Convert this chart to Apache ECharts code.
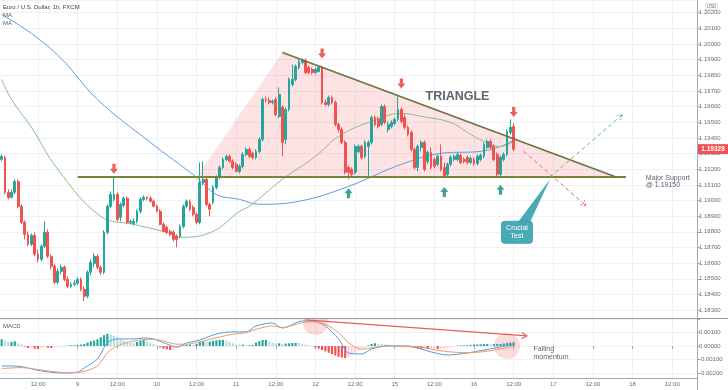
<!DOCTYPE html>
<html><head><meta charset="utf-8">
<script src="https://cdn.jsdelivr.net/npm/echarts@6/dist/echarts.min.js"></script>
<style>html,body{margin:0;padding:0;background:#fff}#c{width:728px;height:390px}</style>
</head><body><div id="c"></div>
<script>
// ---------- time axis (hourly bars, FX weekend gap) ----------
const sessions = [[8,1,23],[9,0,23],[10,0,23],[11,0,23],[12,0,21],[14,22,23],[15,0,23],[16,0,23],[17,0,23],[18,0,19]];
const categories = [];
sessions.forEach(([d,h0,h1]) => { for (let h=h0; h<=h1; h++) categories.push(d + ' ' + String(h).padStart(2,'0') + ':00'); });

// ---------- candles: [open, close, low, high] ----------
const candles = [
[1.19262,1.19282,1.19250,1.19294],[1.19275,1.19052,1.19039,1.19288],[1.19052,1.19020,1.19007,1.19071],[1.19020,1.19052,1.19014,1.19071],
[1.19052,1.19122,1.19039,1.19135],[1.19122,1.18963,1.18950,1.19135],[1.18963,1.18861,1.18848,1.18975],[1.18861,1.18784,1.18752,1.18873],
[1.18784,1.18720,1.18708,1.18803],[1.18720,1.18777,1.18708,1.18790],[1.18777,1.18657,1.18644,1.18797],[1.18657,1.18625,1.18605,1.18688],
[1.18625,1.18708,1.18612,1.18720],[1.18708,1.18797,1.18695,1.18867],[1.18797,1.18644,1.18631,1.18816],[1.18644,1.18580,1.18561,1.18657],
[1.18580,1.18478,1.18465,1.18593],[1.18478,1.18548,1.18465,1.18567],[1.18548,1.18574,1.18529,1.18593],[1.18574,1.18497,1.18484,1.18586],
[1.18497,1.18452,1.18440,1.18516],[1.18452,1.18465,1.18440,1.18478],[1.18465,1.18472,1.18452,1.18491],[1.18472,1.18497,1.18459,1.18510],
[1.18497,1.18433,1.18420,1.18510],[1.18433,1.18389,1.18357,1.18452],[1.18389,1.18542,1.18376,1.18554],[1.18542,1.18605,1.18523,1.18625],
[1.18599,1.18644,1.18574,1.18663],[1.18644,1.18574,1.18561,1.18657],[1.18574,1.18542,1.18523,1.18586],[1.18542,1.18797,1.18529,1.18810],
[1.18797,1.18963,1.18784,1.18975],[1.18963,1.19039,1.18950,1.19058],[1.19007,1.19039,1.18995,1.19154],[1.19039,1.18880,1.18867,1.19052],
[1.18893,1.18975,1.18867,1.18988],[1.18969,1.19014,1.18956,1.19026],[1.19014,1.18861,1.18848,1.19026],[1.18861,1.18867,1.18848,1.18880],
[1.18854,1.18867,1.18841,1.18886],[1.18867,1.18931,1.18854,1.18944],[1.18931,1.19007,1.18918,1.19020],[1.19007,1.19020,1.18995,1.19033],
[1.19020,1.19014,1.19001,1.19026],[1.19014,1.18995,1.18988,1.19026],[1.18995,1.18963,1.18956,1.19007],[1.18963,1.18931,1.18924,1.18975],
[1.18931,1.18848,1.18841,1.18944],[1.18848,1.18803,1.18797,1.18861],[1.18829,1.18797,1.18784,1.18841],[1.18803,1.18784,1.18771,1.18816],
[1.18797,1.18752,1.18739,1.18810],[1.18771,1.18752,1.18701,1.18784],[1.18771,1.18835,1.18759,1.18848],[1.18835,1.18963,1.18822,1.18975],
[1.18963,1.18995,1.18950,1.19007],[1.18995,1.18944,1.18931,1.19007],[1.18956,1.18912,1.18899,1.18969],[1.18912,1.18861,1.18848,1.18924],
[1.18861,1.19116,1.18848,1.19243],[1.19116,1.19135,1.19097,1.19250],[1.19135,1.18975,1.18963,1.19154],[1.18975,1.18944,1.18899,1.18988],
[1.18988,1.19084,1.18975,1.19097],[1.19084,1.19148,1.19071,1.19160],[1.19148,1.19211,1.19135,1.19224],[1.19211,1.19262,1.19199,1.19275],
[1.19262,1.19282,1.19250,1.19294],[1.19282,1.19250,1.19243,1.19294],[1.19250,1.19211,1.19199,1.19262],[1.19231,1.19186,1.19180,1.19243],
[1.19186,1.19218,1.19173,1.19231],[1.19218,1.19294,1.19205,1.19307],[1.19294,1.19326,1.19282,1.19339],[1.19326,1.19282,1.19269,1.19339],
[1.19301,1.19275,1.19262,1.19313],[1.19275,1.19313,1.19262,1.19326],[1.19313,1.19390,1.19301,1.19403],[1.19390,1.19645,1.19377,1.19658],
[1.19645,1.19639,1.19626,1.19664],[1.19639,1.19626,1.19613,1.19658],[1.19626,1.19632,1.19613,1.19645],[1.19645,1.19549,1.19537,1.19658],
[1.19537,1.19677,1.19524,1.19722],[1.19594,1.19371,1.19282,1.19607],[1.19390,1.19581,1.19358,1.19594],[1.19581,1.19773,1.19569,1.19785],
[1.19741,1.19773,1.19728,1.19868],[1.19773,1.19856,1.19760,1.19868],[1.19849,1.19888,1.19836,1.19902],[1.19881,1.19894,1.19868,1.19907],
[1.19894,1.19817,1.19805,1.19907],[1.19849,1.19817,1.19805,1.19862],[1.19836,1.19817,1.19805,1.19849],[1.19817,1.19836,1.19805,1.19849],
[1.19824,1.19849,1.19817,1.19862],[1.19849,1.19626,1.19613,1.19862],[1.19626,1.19613,1.19600,1.19645],[1.19613,1.19658,1.19600,1.19671],
[1.19658,1.19626,1.19613,1.19671],[1.19626,1.19486,1.19473,1.19639],[1.19486,1.19454,1.19435,1.19498],[1.19454,1.19371,1.19358,1.19467],
[1.19371,1.19180,1.19167,1.19384],[1.19211,1.19180,1.19135,1.19224],[1.19199,1.19167,1.19154,1.19211],[1.19180,1.19345,1.19167,1.19358],
[1.19313,1.19345,1.19301,1.19358],[1.19345,1.19275,1.19262,1.19358],[1.19282,1.19371,1.19269,1.19384],[1.19345,1.19371,1.19154,1.19384],
[1.19371,1.19530,1.19358,1.19543],[1.19530,1.19486,1.19473,1.19543],[1.19518,1.19473,1.19460,1.19537],[1.19486,1.19600,1.19473,1.19613],
[1.19600,1.19498,1.19486,1.19613],[1.19454,1.19486,1.19435,1.19505],[1.19473,1.19498,1.19460,1.19512],[1.19492,1.19518,1.19479,1.19530],
[1.19518,1.19581,1.19505,1.19664],[1.19581,1.19505,1.19492,1.19594],[1.19530,1.19467,1.19454,1.19549],[1.19467,1.19422,1.19409,1.19479],
[1.19435,1.19326,1.19313,1.19447],[1.19326,1.19211,1.19199,1.19339],[1.19211,1.19345,1.19186,1.19358],[1.19339,1.19371,1.19313,1.19384],
[1.19371,1.19199,1.19186,1.19384],[1.19250,1.19307,1.19231,1.19320],[1.19307,1.19211,1.19199,1.19339],[1.19262,1.19218,1.19205,1.19275],
[1.19231,1.19282,1.19218,1.19294],[1.19282,1.19199,1.19186,1.19358],[1.19211,1.19154,1.19141,1.19243],[1.19167,1.19231,1.19154,1.19243],
[1.19231,1.19275,1.19218,1.19288],[1.19262,1.19282,1.19250,1.19294],[1.19262,1.19294,1.19250,1.19307],[1.19288,1.19243,1.19231,1.19301],
[1.19262,1.19250,1.19237,1.19275],[1.19275,1.19243,1.19231,1.19288],[1.19243,1.19269,1.19231,1.19282],[1.19262,1.19237,1.19224,1.19275],
[1.19237,1.19282,1.19224,1.19294],[1.19262,1.19288,1.19250,1.19301],[1.19282,1.19358,1.19269,1.19371],[1.19339,1.19377,1.19326,1.19390],
[1.19377,1.19339,1.19326,1.19390],[1.19345,1.19262,1.19250,1.19358],[1.19294,1.19167,1.19154,1.19307],[1.19167,1.19275,1.19154,1.19288],
[1.19262,1.19294,1.19250,1.19307],[1.19294,1.19441,1.19282,1.19454],[1.19435,1.19467,1.19422,1.19518],[1.19473,1.19328,1.19313,1.19492]
];

// ---------- moving averages [barIndex, price] ----------
const maBlue = [[0,1.20187],[9,1.20066],[18,1.19907],[29,1.19645],[45,1.19371],[59,1.19148],[65,1.19039],[72,1.19007],[78,1.18976],[90,1.18995],[105,1.19090],[121,1.19231],[133,1.19301],[145,1.19314],[151,1.19345],[155,1.19384]];
const maGreen = [[0,1.19773],[3,1.19645],[9,1.19467],[17,1.19199],[30,1.18899],[40,1.18848],[50,1.18797],[55,1.18765],[64,1.18803],[72,1.18931],[75,1.18963],[85,1.19135],[95,1.19282],[102,1.19409],[111,1.19498],[121,1.19556],[127,1.19537],[136,1.19498],[141,1.19435],[146,1.19377],[151,1.19345],[155,1.19377]];

// ---------- MACD ----------
const macdHist = [
0.00050,0.00040,0.00030,0.00030,0.00035,0.00020,0.00010,-0.00005,-0.00015,-0.00015,
-0.00020,-0.00022,-0.00015,-0.00010,-0.00012,-0.00015,-0.00012,-0.00008,-0.00005,0.00002,
0.00003,0.00005,0.00005,0.00008,0.00010,0.00015,0.00025,0.00035,0.00040,0.00050,
0.00065,0.00080,0.00090,0.00085,0.00075,0.00065,0.00050,0.00040,0.00030,0.00025,
0.00020,0.00030,0.00040,0.00045,0.00035,0.00025,0.00015,0.00005,-0.00010,-0.00020,
-0.00025,-0.00030,-0.00030,-0.00020,-0.00010,0.00005,0.00008,0.00010,0.00008,0.00015,
0.00030,0.00035,0.00030,0.00032,0.00038,0.00042,0.00045,0.00045,0.00040,0.00030,
0.00020,0.00012,0.00010,0.00010,0.00005,0.00005,0.00008,0.00025,0.00035,0.00045,
0.00045,0.00035,0.00025,0.00020,0.00020,0.00015,0.00018,0.00020,0.00022,0.00023,
0.00022,0.00015,0.00010,0.00006,0.00003,-0.00010,-0.00020,-0.00030,-0.00040,-0.00050,
-0.00060,-0.00070,-0.00080,-0.00085,-0.00090,-0.00080,-0.00065,-0.00050,-0.00035,-0.00020,
-0.00010,0.00005,0.00015,0.00020,0.00018,0.00015,0.00012,0.00010,0.00008,0.00005,
0.00003,0.00002,0.00001,-0.00005,-0.00010,-0.00015,-0.00018,-0.00020,-0.00020,-0.00022,
-0.00020,-0.00020,-0.00022,-0.00020,-0.00020,-0.00015,-0.00010,-0.00005,0.00003,0.00005,
0.00005,0.00006,0.00008,0.00010,0.00010,0.00012,0.00015,0.00015,0.00012,0.00013,
0.00015,0.00015,0.00018,0.00022,0.00025,0.00028];
const macdLine = [[0,-0.00148],[4,-0.00148],[12,-0.00185],[18,-0.00200],[23,-0.00193],[25,-0.00163],[29,-0.00096],[32,0.00022],[35,0.00052],[40,0.00052],[43,0.00059],[46,0.00052],[50,0.00015],[53,-0.00007],[56,0.00022],[60,0.00044],[65,0.00089],[70,0.00104],[74,0.00104],[77,0.00148],[82,0.00170],[85,0.00133],[91,0.00185],[94,0.00185],[98,0.00148],[102,0.00052],[105,-0.00052],[109,-0.00059],[112,-0.00022],[117,0],[123,0],[126,-0.00015],[130,-0.00044],[135,-0.00067],[141,-0.00052],[146,-0.00030],[151,-0.00007],[155,0.00015]];
const signalLine = [[0,-0.00167],[6,-0.00160],[12,-0.00178],[20,-0.00198],[24,-0.00193],[29,-0.00148],[32,-0.00050],[35,0],[40,0.00037],[46,0.00050],[50,0.00030],[53,0.00013],[56,0.00013],[60,0.00030],[65,0.00061],[70,0.00087],[74,0.00099],[77,0.00124],[82,0.00148],[85,0.00136],[91,0.00173],[94,0.00178],[98,0.00161],[102,0.00099],[105,0.00024],[109,-0.00024],[112,-0.00013],[117,0],[123,-0.00005],[126,-0.00005],[130,-0.00024],[135,-0.00042],[141,-0.00050],[146,-0.00042],[151,-0.00022],[155,0]];

// ---------- annotations (data coordinates: [barIndex, price]) ----------
const triangleZone = [[59.1,1.19150],[84.9,1.19945],[186.3,1.19150]];
const supportLine = [[22.8,1.19150],[189,1.19150]];
const resistanceLine = [[84.9,1.19945],[186.3,1.19150]];
const bullPath = [[166,1.19150],[187.7,1.19549]];
const bearPath = [[157.9,1.19315],[176.6,1.18965]];
const calloutBox = [156.2,1.18797];
const calloutTip = [166,1.19135];
const triangleLabel = [138.2,1.19661];
const supportLabel = [194.8,1.19170];
const arrowsDown = [[34,1.19202],[97,1.19938],[121,1.19747],[155,1.19565]];
const arrowsUp = [[105,1.19046],[134,1.19055],[151,1.19068]];
const macdCircles = [[94.5,0.00174],[153,0.0]];
const macdTrend = [[92.4,0.00193],[159.3,0.00074]];
const macdLabel = [160.6,0.00002];

const FONT = '"Liberation Sans", Arial, sans-serif';
const GRIDC = '#eef0f5';
const AXC = '#a4a7ae';
const TXT = '#5e6672';
const isMajor = (i, v) => { const hh = String(v).split(' ')[1]; return hh === '00:00' || hh === '12:00'; };
const fmtTime = v => { const [d, hh] = String(v).split(' '); return hh === '00:00' ? d : hh; };
const fmtPrice = v => (Math.abs(v * 1000 - Math.round(v * 1000)) < 1e-6) ? v.toFixed(5) : '';
const fmtMacd = v => (v > 0.0015 ? '' : fmtPrice(v));
const lastClose = candles[candles.length - 1][1];

function head(a, b, len, ang) {
  const t = Math.atan2(b[1]-a[1], b[0]-a[0]);
  return [[b[0]-len*Math.cos(t-ang), b[1]-len*Math.sin(t-ang)], b, [b[0]-len*Math.cos(t+ang), b[1]-len*Math.sin(t+ang)]];
}

function renderZone(params, api) {
  return {type:'polygon', shape:{points: triangleZone.map(p => api.coord(p))},
    style:{fill:'rgba(242,64,70,0.15)'}, silent:true};
}

function renderDrawings(params, api) {
  const c = p => api.coord(p);
  const cs = params.coordSys;
  const ch = [];
  ch.push({type:'line', shape:{x1:c(supportLine[0])[0], y1:c(supportLine[0])[1], x2:c(supportLine[1])[0], y2:c(supportLine[1])[1]}, style:{stroke:'#77863c', lineWidth:1.8}});
  ch.push({type:'line', shape:{x1:c(resistanceLine[0])[0], y1:c(resistanceLine[0])[1], x2:c(resistanceLine[1])[0], y2:c(resistanceLine[1])[1]}, style:{stroke:'#6f7440', lineWidth:1.8}});
  const bA = c(bullPath[0]), bB = c(bullPath[1]);
  ch.push({type:'polyline', shape:{points:[bA,bB]}, style:{stroke:'#6cb870', lineWidth:1, lineDash:[4,3], fill:null}});
  ch.push({type:'polyline', shape:{points:head(bA,bB,6,0.5)}, style:{stroke:'#6cb870', lineWidth:1, lineDash:[2,1.5], fill:null}});
  const rA = c(bearPath[0]), rB = c(bearPath[1]);
  ch.push({type:'polyline', shape:{points:[rA,rB]}, style:{stroke:'#e66a6a', lineWidth:1, lineDash:[4,3], fill:null}});
  ch.push({type:'polyline', shape:{points:head(rA,rB,6,0.5)}, style:{stroke:'#e66a6a', lineWidth:1, lineDash:[2,1.5], fill:null}});
  const bx = c(calloutBox), tip = c(calloutTip);
  ch.push({type:'polygon', shape:{points:[[bx[0]+1, bx[1]-10],[bx[0]+13, bx[1]-10], tip]}, style:{fill:'#49a9b4'}});
  ch.push({type:'rect', shape:{x:bx[0]-15.5, y:bx[1]-11, width:31, height:22, r:3}, style:{fill:'#49a9b4', stroke:'#3d9aa5', lineWidth:0.8}});
  ch.push({type:'text', style:{text:'Crucial\nTest', x:bx[0], y:bx[1], align:'center', verticalAlign:'middle', fill:'#ffffff', fontSize:7, lineHeight:8, fontFamily:FONT}});
  const tl = c(triangleLabel);
  ch.push({type:'text', style:{text:'TRIANGLE', x:tl[0], y:tl[1], align:'center', verticalAlign:'middle', fill:TXT, fontSize:12.5, fontWeight:'bold', fontFamily:FONT}});
  const sl = c(supportLabel);
  ch.push({type:'text', style:{text:'Major Support\n@ 1.19150', x:sl[0], y:sl[1], align:'left', verticalAlign:'top', fill:TXT, fontSize:7, lineHeight:7.5, fontFamily:FONT}});
  // last-price tag on the price scale
  const py = c([0, lastClose])[1];
  const px = cs.x + cs.width + 1;
  ch.push({type:'rect', shape:{x:px, y:py-5, width:30, height:10}, style:{fill:'#ef5350'}});
  ch.push({type:'text', style:{text:lastClose.toFixed(5), x:px+15, y:py+0.5, align:'center', verticalAlign:'middle', fill:'#ffffff', fontSize:6.5, fontWeight:'bold', fontFamily:FONT}});
  return {type:'group', children:ch};
}

function renderMacdBack(params, api) {
  const top = params.coordSys.y;
  const ch = macdCircles.map((m, k) => {
    const ctr = api.coord(m), r = k === 0 ? 12.5 : 13;
    const pts = [];
    for (let i = 0; i < 60; i++) { const a = i/60*2*Math.PI; pts.push([ctr[0]+r*Math.cos(a), Math.max(top, ctr[1]+r*Math.sin(a))]); }
    return {type:'polygon', shape:{points:pts}, style:{fill:'rgba(240,90,85,0.22)'}};
  });
  return {type:'group', children:ch};
}

function renderMacdFront(params, api) {
  const a = api.coord(macdTrend[0]), b = api.coord(macdTrend[1]);
  const lb = api.coord(macdLabel);
  return {type:'group', children:[
    {type:'polyline', shape:{points:[a,b]}, style:{stroke:'#e5605c', lineWidth:1.2, fill:null}},
    {type:'polyline', shape:{points:head(a,b,6,0.55)}, style:{stroke:'#e5605c', lineWidth:1.2, fill:null}},
    {type:'text', style:{text:'Falling\nmomentum', x:lb[0], y:lb[1], align:'left', verticalAlign:'top', fill:TXT, fontSize:7, lineHeight:7.5, fontFamily:FONT}}
  ]};
}

const histColor = i => {
  const v = macdHist[i], p = i > 0 ? macdHist[i-1] : v;
  if (v >= 0) return v >= p ? '#26a69a' : '#b2dfdb';
  return v < p ? '#ef5350' : '#ffcdd2';
};

const axisLabelBase = {fontSize:6, color:'#6a6d78', margin:2, fontFamily:FONT, showMinLabel:false, showMaxLabel:false};

const option = {
  animation:false,
  backgroundColor:'#ffffff',
  textStyle:{fontFamily:FONT},
  grid:[
    {left:0, right:31, top:0, height:318, outerBoundsMode:'none', containLabel:false},
    {left:0, right:31, top:318, height:60, outerBoundsMode:'none', containLabel:false}
  ],
  xAxis:[
    {type:'category', gridIndex:0, data:categories, boundaryGap:true,
     axisLine:{show:false}, axisTick:{show:false}, axisLabel:{show:false},
     splitLine:{show:true, interval:isMajor, alignWithLabel:true, lineStyle:{color:GRIDC, width:1}}},
    {type:'category', gridIndex:1, data:categories, boundaryGap:true,
     axisLine:{show:false},
     axisTick:{show:true, interval:isMajor, alignWithLabel:true, length:3, lineStyle:{color:AXC}},
     axisLabel:{interval:isMajor, formatter:fmtTime, fontSize:6, color:'#6a6d78', margin:3, fontFamily:FONT},
     splitLine:{show:true, interval:isMajor, alignWithLabel:true, lineStyle:{color:GRIDC, width:1}}}
  ],
  yAxis:[
    {type:'value', gridIndex:0, position:'right', min:1.1825, max:1.2028, splitNumber:20,
     axisLine:{show:false}, axisTick:{show:true, length:3, lineStyle:{color:AXC}},
     axisLabel:Object.assign({}, axisLabelBase, {formatter:fmtPrice}), splitLine:{show:true, lineStyle:{color:GRIDC, width:1}}},
    {type:'value', gridIndex:1, position:'right', min:-0.00237, max:0.00207, splitNumber:4,
     axisLine:{show:false}, axisTick:{show:true, length:3, lineStyle:{color:AXC}},
     axisLabel:Object.assign({}, axisLabelBase, {formatter:fmtMacd}), splitLine:{show:true, lineStyle:{color:GRIDC, width:1}}}
  ],
  series:[
    {type:'custom', name:'zone', xAxisIndex:0, yAxisIndex:0, z:1, silent:true, data:[[triangleZone[0][0], triangleZone[0][1]]], renderItem:renderZone},
    {type:'line', name:'MA slow', xAxisIndex:0, yAxisIndex:0, z:2, data:maBlue, smooth:0.4, showSymbol:false, symbol:'none', lineStyle:{color:'#5c9fe0', width:1}},
    {type:'line', name:'MA fast', xAxisIndex:0, yAxisIndex:0, z:2, data:maGreen, smooth:0.4, showSymbol:false, symbol:'none', lineStyle:{color:'#8cbd86', width:1}},
    {type:'candlestick', name:'EURUSD', xAxisIndex:0, yAxisIndex:0, z:3, data:candles, barWidth:'70%',
     itemStyle:{color:'#26a69a', color0:'#ef5350', borderColor:'#26a69a', borderColor0:'#ef5350', borderWidth:1}},
    {type:'custom', name:'drawings', xAxisIndex:0, yAxisIndex:0, z:5, silent:true, clip:false, data:[[supportLine[0][0], supportLine[0][1]]], renderItem:renderDrawings},
    {type:'scatter', name:'down', xAxisIndex:0, yAxisIndex:0, z:6, data:arrowsDown, symbol:'path://M3,0L7,0L7,5L10,5L5,10L0,5L3,5Z', symbolSize:[8,10], itemStyle:{color:'#e53935'}},
    {type:'scatter', name:'up', xAxisIndex:0, yAxisIndex:0, z:6, data:arrowsUp, symbol:'path://M5,0L10,5L7,5L7,10L3,10L3,5L0,5Z', symbolSize:[8,10], itemStyle:{color:'#13897b'}},
    {type:'custom', name:'macdBack', xAxisIndex:1, yAxisIndex:1, z:1, silent:true, data:[[macdCircles[0][0], macdCircles[0][1]]], renderItem:renderMacdBack},
    {type:'bar', name:'hist', xAxisIndex:1, yAxisIndex:1, z:2, data:macdHist, barWidth:'65%', itemStyle:{color: p => histColor(p.dataIndex)}},
    {type:'line', name:'MACD', xAxisIndex:1, yAxisIndex:1, z:3, data:macdLine, smooth:0.3, symbol:'none', lineStyle:{color:'#4f9ee8', width:1}},
    {type:'line', name:'Signal', xAxisIndex:1, yAxisIndex:1, z:3, data:signalLine, smooth:0.3, symbol:'none', lineStyle:{color:'#f29a5b', width:1}},
    {type:'custom', name:'macdFront', xAxisIndex:1, yAxisIndex:1, z:4, silent:true, data:[[macdTrend[0][0], macdTrend[0][1]]], renderItem:renderMacdFront}
  ],
  graphic:[
    {type:'line', shape:{x1:697.5, y1:0, x2:697.5, y2:390}, style:{stroke:AXC, lineWidth:1}, z:10},
    {type:'line', shape:{x1:0, y1:318.5, x2:728, y2:318.5}, style:{stroke:'#9a9da5', lineWidth:1.2}, z:10},
    {type:'line', shape:{x1:0, y1:378.5, x2:697.5, y2:378.5}, style:{stroke:AXC, lineWidth:1}, z:10},
    {type:'text', x:3, y:4, style:{text:'Euro / U.S. Dollar, 1h, FXCM', fontSize:6, fill:'#3c3f48', fontFamily:FONT}, z:10},
    {type:'text', x:3, y:12.5, style:{text:'MA', fontSize:6, fill:'#555a64', fontFamily:FONT}, z:10},
    {type:'text', x:3, y:20.5, style:{text:'MA', fontSize:6, fill:'#555a64', fontFamily:FONT}, z:10},
    {type:'text', x:3, y:323.5, style:{text:'MACD', fontSize:6, fill:'#555a64', fontFamily:FONT}, z:10},
    {type:'rect', shape:{x:705.5, y:3.5, width:12, height:6}, style:{fill:'#fff', stroke:'#c8cad0', lineWidth:0.6}, z:10},
    {type:'text', x:711.5, y:6.7, style:{text:'USD', fontSize:4.5, fill:'#6a6d78', align:'center', verticalAlign:'middle', fontFamily:FONT}, z:11}
  ]
};

const chart = echarts.init(document.getElementById('c'), null, {renderer:'canvas'});
chart.setOption(option);
</script>
</body></html>
